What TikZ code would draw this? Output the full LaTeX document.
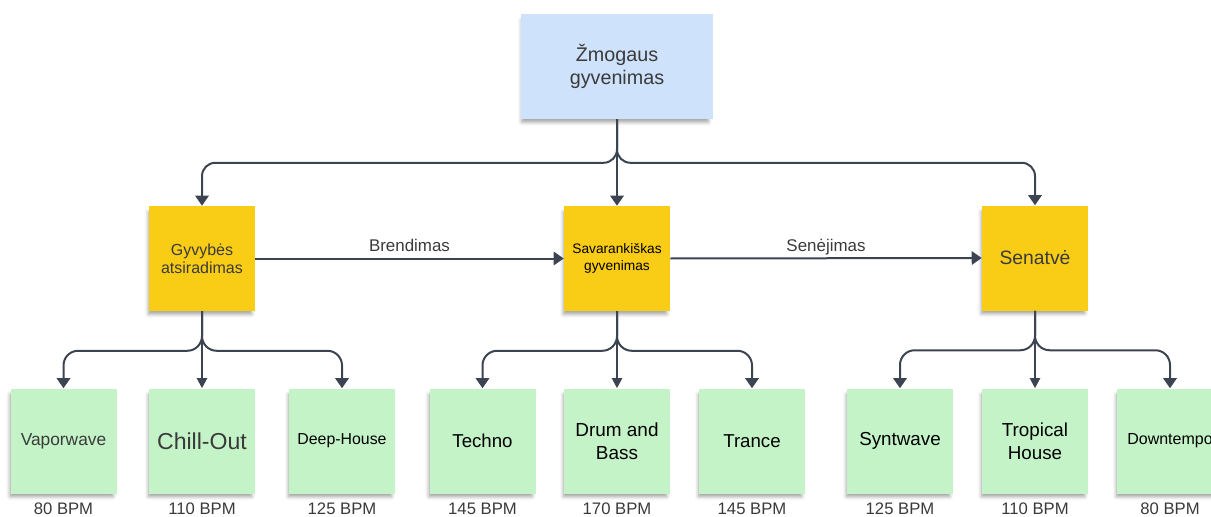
\documentclass[tikz,border=0pt]{standalone}
\usepackage{fontspec}
\setmainfont{Liberation Sans}
\usetikzlibrary{arrows.meta,shadows.blur}
\definecolor{linec}{HTML}{3D4451}
\definecolor{blueN}{HTML}{CFE2FC}
\definecolor{yellowN}{HTML}{F9CC15}
\definecolor{greenN}{HTML}{C3F3C6}
\definecolor{txtgray}{HTML}{3A3A3A}
\newcommand{\fs}[2]{\fontsize{#1}{#2}\selectfont}
\begin{document}
\begin{tikzpicture}[x=0.75pt,y=-0.75pt,
  note/.style={minimum width=79.5pt, minimum height=78.75pt, inner sep=1pt,
    align=center, text=black,
    blur shadow={shadow xshift=-1.5pt, shadow yshift=-3.5pt,
      shadow opacity=40, shadow blur radius=3pt, shadow scale=0.97}},
  topnote/.style={note, fill=blueN, minimum width=144pt, text=txtgray},
  phase/.style={note, fill=yellowN},
  genre/.style={note, fill=greenN},
  bpm/.style={anchor=base, inner sep=0pt, text=txtgray, font=\fs{12.5}{15}},
  conn/.style={draw=linec, line width=1.5pt,
    -{Triangle[width=10pt,length=7.5pt]}},
  connthin/.style={conn, -{Triangle[width=7.5pt,length=7.5pt]}},
  edgelabel/.style={text=txtgray, font=\fs{12.7}{15}, anchor=base},
]
\useasboundingbox (0,0) rectangle (1211,517);
\clip (0,0) rectangle (1211,517);

% root
\node[topnote, font=\fs{14.8}{17.3}] (root) at (617,66.5) {Žmogaus\\gyvenimas};

% life phases
\node[phase, font=\fs{12}{13.7}, text=txtgray] (p1) at (202,258.5) {Gyvybės\\atsiradimas};
\node[phase, font=\fs{10.3}{12.8}] (p2) at (617,258.5) {Savarankiškas\\gyvenimas};
\node[phase, font=\fs{14.5}{17}, text=txtgray] (p3) at (1035,258) {Senatvė};

% genres
\node[genre, font=\fs{13}{15}, text=txtgray] (g1) at (63.5,441) {Vaporwave};
\node[genre, font=\fs{17.3}{20}, text=txtgray] (g2) at (202,441) {Chill-Out};
\node[genre, font=\fs{11.9}{14}] (g3) at (342,441) {Deep-House};
\node[genre, font=\fs{14}{17.3}] (g4) at (482.5,441) {Techno};
\node[genre, font=\fs{14.2}{17.3}] (g5) at (617,441) {Drum and\\Bass};
\node[genre, font=\fs{14}{17.3}] (g6) at (752,441) {Trance};
\node[genre, font=\fs{14.1}{17.3}] (g7) at (900,441) {Syntwave};
\node[genre, font=\fs{14.1}{17.3}] (g8) at (1035,441) {Tropical\\House};
\node[genre, font=\fs{12}{14}] (g9) at (1170,441) {Downtempo};

% tempo labels
\node[bpm] (b1) at (63.5,514.5) {80 BPM};
\node[bpm] (b2) at (202,514.5) {110 BPM};
\node[bpm] (b3) at (342,514.5) {125 BPM};
\node[bpm] (b4) at (482.5,514.5) {145 BPM};
\node[bpm] (b5) at (617,514.5) {170 BPM};
\node[bpm] (b6) at (752,514.5) {145 BPM};
\node[bpm] (b7) at (900,514.5) {125 BPM};
\node[bpm] (b8) at (1035,514.5) {110 BPM};
\node[bpm] (b9) at (1170,514.5) {80 BPM};

% root to phases
\draw[conn, rounded corners=10pt] (root.south) -- ++(0,43.5) -| (p1.north);
\draw[conn, rounded corners=10pt] (root.south) -- ++(0,43.5) -| (p3.north);
\draw[conn] (root.south) -- (p2.north);

% phase to phase
\draw[conn] (p1.east) -- node[edgelabel, pos=0.5, yshift=5pt] (l1) {Brendimas} (p2.west);
\draw[conn] (p2.east) -- node[edgelabel, pos=0.5, yshift=5pt] (l2) {Senėjimas} (p3.west);

% phases to genres
\foreach \p/\a/\b/\c in {p1/g1/g2/g3, p2/g4/g5/g6, p3/g7/g8/g9}{
  \draw[conn, rounded corners=11pt] (\p.south) -- ++(0,39.5) -| (\a.north);
  \draw[conn, rounded corners=11pt] (\p.south) -- ++(0,39.5) -| (\c.north);
  \draw[connthin] (\p.south) -- (\b.north);
}
\end{tikzpicture}
\end{document}
